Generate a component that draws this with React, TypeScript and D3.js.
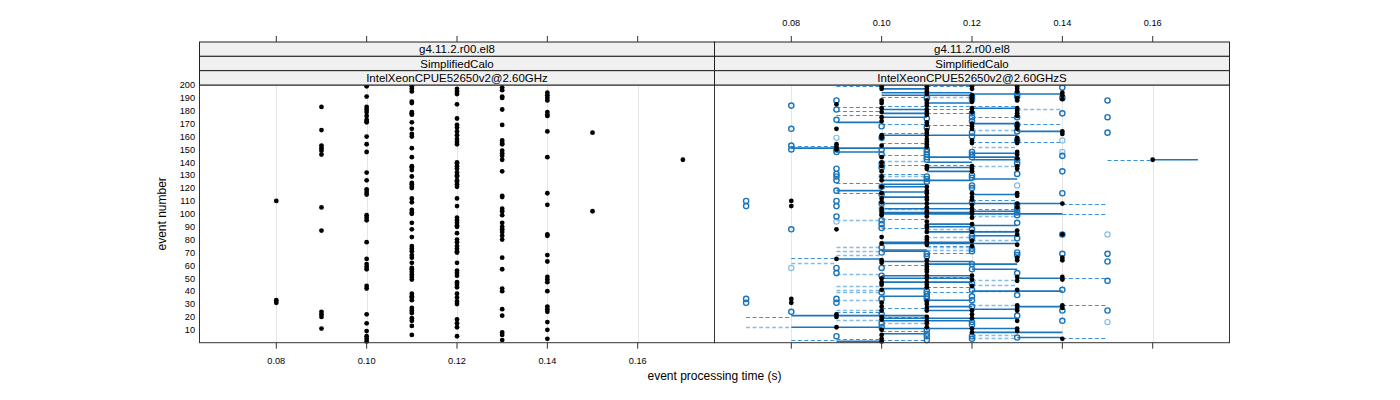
import React from "react";
import * as d3 from "d3";

// ---------- Left panel (IntelXeonCPUE52650v2@2.60GHz): event numbers per processing time ----------
const leftTimes = [0.08, 0.09, 0.10, 0.11, 0.12, 0.13, 0.14, 0.15, 0.17];
const left008 = [110, 33, 31];
const left009 = [183, 165, 153, 151, 149, 146, 105, 87, 24, 22, 20, 11];
const left010 = [199, 191, 183, 181, 179, 176, 173, 172, 171, 160, 154, 148, 132, 126, 119, 117, 115, 99, 97, 95, 78, 65, 61, 59, 57, 44, 42, 22, 15, 9, 5, 3, 1];
const left011 = [199, 197, 195, 187, 186, 179, 178, 177, 171, 166, 162, 160, 151, 144, 137, 136, 134, 129, 124, 123, 121, 120, 112, 109, 103, 101, 100, 93, 88, 82, 75, 73, 71, 68, 66, 62, 58, 57, 55, 53, 51, 49, 38, 36, 35, 33, 27, 25, 23, 19, 17, 13, 6];
const left012 = [197, 195, 193, 185, 174, 169, 167, 164, 161, 158, 156, 154, 140, 139, 137, 135, 132, 130, 129, 126, 125, 123, 121, 112, 106, 97, 95, 93, 91, 90, 85, 80, 78, 75, 73, 71, 70, 62, 56, 54, 52, 47, 45, 43, 38, 35, 32, 30, 18, 15, 12, 5];
const left013 = [198, 196, 191, 190, 181, 169, 157, 155, 154, 149, 147, 145, 142, 133, 114, 113, 104, 102, 99, 93, 90, 88, 86, 83, 80, 66, 57, 42, 40, 26, 21, 8, 6, 2];
const left014 = [194, 192, 190, 188, 179, 177, 176, 164, 144, 116, 107, 84, 83, 68, 63, 51, 49, 47, 40, 28, 26, 24, 16, 10, 3];
const left015 = [163, 102];
const left017 = [142];
const leftEvents = [left008, left009, left010, left011, left012, left013, left014, left015, left017];

// ---------- Right panel (IntelXeonCPUE52650v2@2.60GHzS) ----------
const rightTimes = [0.07, 0.08, 0.09, 0.10, 0.11, 0.12, 0.13, 0.14, 0.15, 0.16];
// black filled points per time
const black007: number[] = [];
const black008 = [110, 106, 34, 31];
const black009 = [185, 166, 154, 152, 150, 88, 65, 22, 20, 12];
const black010 = [199, 197, 188, 186, 182, 179, 175, 172, 161, 159, 153, 144, 140, 137, 133, 129, 126, 121, 116, 112, 109, 104, 102, 100, 99, 82, 77, 64, 62, 50, 47, 45, 41, 31, 28, 25, 20, 18, 10, 6, 3, 1];
const black011 = [199, 197, 195, 193, 188, 186, 184, 181, 179, 177, 171, 169, 165, 163, 161, 158, 156, 154, 152, 137, 135, 121, 118, 116, 113, 111, 108, 105, 102, 100, 98, 94, 91, 89, 86, 82, 80, 78, 76, 64, 61, 59, 57, 55, 52, 50, 47, 45, 43, 32, 30, 27, 25, 20, 17, 15, 12];
const black012 = [199, 197, 192, 190, 187, 182, 179, 170, 168, 166, 157, 155, 137, 135, 133, 116, 113, 111, 107, 104, 102, 100, 97, 92, 86, 79, 75, 52, 49, 44, 25, 22, 19, 11, 8];
const black013 = [199, 197, 195, 190, 188, 182, 180, 178, 176, 170, 168, 166, 159, 157, 155, 148, 146, 143, 137, 135, 116, 114, 108, 105, 87, 84, 76, 66, 64, 51, 48, 41, 29, 27, 25, 17, 11, 9];
const black014 = [194, 192, 189, 164, 162, 108, 84, 66, 64, 51, 49, 29, 27, 3];
const black015: number[] = [];
const black016 = [142];
const blackEvents = [black007, black008, black009, black010, black011, black012, black013, black014, black015, black016];
// open circles (dark blue) per time
const open007 = [110, 106, 34, 31];
const open008 = [184, 166, 153, 150, 88, 24];
const open009 = [188, 181, 173, 150, 148, 135, 131, 129, 126, 118, 110, 106, 98, 58, 54, 34, 31, 5];
const open010 = [168, 159, 150, 146, 139, 136, 121, 115, 108, 95, 92, 89, 74, 70, 58, 52, 39, 34, 22, 15, 12];
const open011 = [190, 174, 167, 150, 148, 146, 144, 142, 129, 127, 125, 69, 67, 40, 38, 36, 34, 10, 7, 5, 2];
const open012 = [191, 189, 178, 175, 172, 163, 160, 148, 146, 144, 130, 128, 122, 120, 109, 88, 83, 81, 73, 71, 61, 57, 46, 41, 36, 33, 28, 16, 14, 5, 3];
const open013 = [193, 191, 175, 169, 164, 157, 142, 139, 131, 107, 104, 101, 99, 93, 81, 70, 68, 54, 37, 21, 4];
const open014 = [198, 190, 178, 145, 133, 116, 84, 69, 41, 25, 17];
const open015 = [188, 175, 163, 69, 63, 48, 25];
const open016: number[] = [];
const openEvents = [open007, open008, open009, open010, open011, open012, open013, open014, open015, open016];
// open circles (light blue) per time
const light008 = [58];
const light009 = [159, 94];
const light010 = [129, 104];
const light013 = [122];
const light014 = [157, 148];
const light015 = [84, 16];
const lightEvents: [number, number[]][] = [
  [0.08, light008], [0.09, light009], [0.10, light010], [0.13, light013], [0.14, light014], [0.15, light015],
];

// segments: [event, from time, to time]
const solidSegments: [number, number, number][] = [
  [197, 0.10, 0.11], [194, 0.10, 0.12], [192, 0.10, 0.12], [193, 0.12, 0.14], [186, 0.11, 0.12],
  [182, 0.12, 0.13], [181, 0.10, 0.11], [178, 0.10, 0.11], [175, 0.10, 0.11], [171, 0.09, 0.10],
  [170, 0.12, 0.13], [164, 0.13, 0.14], [161, 0.10, 0.13], [151, 0.08, 0.10], [151, 0.10, 0.11],
  [148, 0.09, 0.10], [147, 0.12, 0.13], [144, 0.11, 0.13], [142, 0.12, 0.13], [142, 0.16, 0.17],
  [140, 0.11, 0.12], [136, 0.11, 0.12], [133, 0.11, 0.12], [127, 0.12, 0.13], [126, 0.10, 0.12],
  [123, 0.10, 0.11], [121, 0.10, 0.11], [118, 0.09, 0.10], [117, 0.10, 0.11], [115, 0.12, 0.13],
  [113, 0.10, 0.11], [108, 0.10, 0.14], [104, 0.10, 0.12], [102, 0.12, 0.13], [100, 0.10, 0.14],
  [101, 0.10, 0.12], [92, 0.11, 0.12], [91, 0.12, 0.13], [90, 0.11, 0.12], [86, 0.11, 0.13],
  [83, 0.12, 0.13], [78, 0.10, 0.12], [77, 0.10, 0.13], [72, 0.10, 0.11], [71, 0.10, 0.11],
  [65, 0.09, 0.10], [63, 0.10, 0.12], [61, 0.11, 0.13], [57, 0.12, 0.13], [52, 0.10, 0.12],
  [50, 0.10, 0.12], [50, 0.13, 0.14], [47, 0.10, 0.12], [42, 0.10, 0.11], [40, 0.12, 0.14],
  [36, 0.10, 0.11], [33, 0.11, 0.12], [28, 0.11, 0.12], [28, 0.13, 0.14], [26, 0.12, 0.13],
  [25, 0.11, 0.12], [21, 0.08, 0.11], [19, 0.10, 0.13], [17, 0.10, 0.12], [12, 0.08, 0.10],
  [11, 0.10, 0.13], [8, 0.12, 0.14], [7, 0.10, 0.11], [4, 0.13, 0.14], [1, 0.09, 0.10],
];
const dashedSegments: [number, number, number][] = [
  [199, 0.09, 0.10], [199, 0.11, 0.12], [191, 0.10, 0.11], [184, 0.12, 0.13], [184, 0.10, 0.11],
  [183, 0.09, 0.10], [180, 0.09, 0.10], [177, 0.09, 0.10], [184, 0.11, 0.12], [181, 0.11, 0.12],
  [178, 0.11, 0.12], [175, 0.12, 0.13], [170, 0.13, 0.14], [170, 0.10, 0.11], [169, 0.11, 0.12],
  [163, 0.10, 0.11], [156, 0.12, 0.14], [155, 0.10, 0.11], [153, 0.08, 0.09], [146, 0.10, 0.11],
  [138, 0.10, 0.12], [131, 0.10, 0.11], [124, 0.09, 0.10], [116, 0.09, 0.10], [111, 0.12, 0.13],
  [108, 0.14, 0.15], [104, 0.12, 0.13], [100, 0.14, 0.15], [142, 0.15, 0.16], [96, 0.10, 0.11],
  [89, 0.10, 0.11], [75, 0.11, 0.12], [70, 0.11, 0.12], [66, 0.08, 0.09], [60, 0.10, 0.11],
  [51, 0.11, 0.12], [50, 0.14, 0.15], [43, 0.11, 0.12], [39, 0.11, 0.12], [29, 0.14, 0.15],
  [27, 0.10, 0.11], [24, 0.09, 0.10], [20, 0.07, 0.08], [20, 0.10, 0.11], [9, 0.10, 0.11],
  [4, 0.14, 0.15], [3, 0.09, 0.10], [2, 0.08, 0.09], [2, 0.10, 0.11],
];
const lightDashedSegments: [number, number, number][] = [
  [191, 0.11, 0.12], [181, 0.13, 0.14], [165, 0.12, 0.13], [152, 0.12, 0.13], [141, 0.10, 0.11],
  [137, 0.12, 0.13], [129, 0.10, 0.11], [104, 0.10, 0.11], [101, 0.12, 0.13], [98, 0.12, 0.13],
  [95, 0.09, 0.10], [88, 0.11, 0.12], [87, 0.12, 0.13], [82, 0.11, 0.12], [80, 0.12, 0.13],
  [74, 0.09, 0.10], [74, 0.11, 0.12], [72, 0.11, 0.12], [71, 0.09, 0.10], [68, 0.09, 0.10],
  [62, 0.08, 0.09], [53, 0.09, 0.10], [49, 0.12, 0.13], [44, 0.09, 0.10], [41, 0.09, 0.10],
  [39, 0.09, 0.10], [45, 0.12, 0.13], [40, 0.12, 0.13], [33, 0.09, 0.10], [29, 0.12, 0.13],
  [25, 0.09, 0.10], [18, 0.09, 0.10], [15, 0.10, 0.11], [12, 0.07, 0.08], [6, 0.12, 0.13],
  [4, 0.12, 0.13],
];

const xTicks = [0.08, 0.10, 0.12, 0.14, 0.16];
const yTicks = [10, 20, 30, 40, 50, 60, 70, 80, 90, 100, 110, 120, 130, 140, 150, 160, 170, 180, 190, 200];
const stripLabels = ["g4.11.2.r00.el8", "SimplifiedCalo"];
const panelNames = ["IntelXeonCPUE52650v2@2.60GHz", "IntelXeonCPUE52650v2@2.60GHzS"];
const xTitle = "event processing time (s)";
const yTitle = "event number";

const FONT = "'Liberation Sans', Arial, Helvetica, sans-serif";
const DARK = "#1a75bb";
const MID = "#3a93d8";
const LIGHT = "#86bde8";

export default function App() {
  const W = 1400, H = 400;
  const panelX = [199.5, 714.5, 1229.5];
  const top = 85, bottom = 342.7;
  const stripTop = 42;
  const stripH = (top - stripTop) / 3;
  const xDomain = [0.063, 0.177];
  const y = d3.scaleLinear().domain([0, 200]).range([bottom, top]);
  const yc = (e: number) => Math.round(y(e)) + 0.5;
  const xs = [0, 1].map((i) => d3.scaleLinear().domain(xDomain).range([panelX[i], panelX[i + 1]]));

  const leftScale = xs[0];
  const rightScale = xs[1];

  return (
    <svg width={W} height={H} style={{ position: "absolute", left: 0, top: 0, background: "#fff" }} fontFamily={FONT}>
      {/* grid */}
      {[0, 1].map((p) => (
        <g key={"grid" + p}>
          {xTicks.map((t) => (
            <line key={t} x1={Math.round(xs[p](t)) + 0.5} x2={Math.round(xs[p](t)) + 0.5} y1={top} y2={bottom} stroke="#e6e6e6" strokeWidth={1} />
          ))}
        </g>
      ))}
      {/* left panel points */}
      <g>
        {leftTimes.map((t, i) =>
          leftEvents[i].map((e, j) => (
            <circle key={t + "-" + j} cx={leftScale(t)} cy={y(e)} r={2.4} fill="#000" />
          ))
        )}
      </g>
      {/* right panel segments */}
      <g>
        {lightDashedSegments.map(([e, a, b], i) => (
          <line key={"ld" + i} x1={rightScale(a)} x2={rightScale(b)} y1={yc(e)} y2={yc(e)} stroke={LIGHT} strokeWidth={1.3} strokeDasharray="4,2.5" />
        ))}
        {dashedSegments.map(([e, a, b], i) => (
          <line key={"d" + i} x1={rightScale(a)} x2={rightScale(b)} y1={yc(e)} y2={yc(e)} stroke={MID} strokeWidth={1.2} strokeDasharray="4,2.5" />
        ))}
        {solidSegments.map(([e, a, b], i) => (
          <line key={"s" + i} x1={rightScale(a)} x2={rightScale(b)} y1={y(e)} y2={y(e)} stroke={DARK} strokeWidth={1.6} />
        ))}
      </g>
      {/* right panel open circles */}
      <g>
        {lightEvents.map(([t, evs]) =>
          evs.map((e, j) => (
            <circle key={"lc" + t + "-" + j} cx={rightScale(t)} cy={y(e)} r={2.6} fill="none" stroke={LIGHT} strokeWidth={1.2} />
          ))
        )}
        {rightTimes.map((t, i) =>
          openEvents[i].map((e, j) => (
            <circle key={"oc" + t + "-" + j} cx={rightScale(t)} cy={y(e)} r={2.6} fill="none" stroke={DARK} strokeWidth={1.4} />
          ))
        )}
        {rightTimes.map((t, i) =>
          blackEvents[i].map((e, j) => (
            <circle key={"bc" + t + "-" + j} cx={rightScale(t)} cy={y(e)} r={2.4} fill="#000" />
          ))
        )}
      </g>
      {/* panel borders */}
      {[0, 1].map((p) => (
        <rect key={"b" + p} x={panelX[p]} y={top} width={panelX[p + 1] - panelX[p]} height={bottom - top} fill="none" stroke="#333" strokeWidth={1} />
      ))}
      {/* strips */}
      {[0, 1].map((p) => (
        <g key={"strip" + p}>
          {[...stripLabels, panelNames[p]].map((lab, k) => (
            <g key={k}>
              <rect x={panelX[p]} y={stripTop + k * stripH} width={panelX[p + 1] - panelX[p]} height={stripH} fill="#f0f0f0" stroke="#222" strokeWidth={1} />
              <text x={(panelX[p] + panelX[p + 1]) / 2} y={stripTop + k * stripH + stripH / 2 + 4} textAnchor="middle" fontSize={11.5} fill="#000">
                {lab}
              </text>
            </g>
          ))}
        </g>
      ))}
      {/* x axes: ticks top and bottom on both panels; labels bottom-left, top-right */}
      {[0, 1].map((p) => (
        <g key={"ax" + p}>
          {xTicks.map((t) => (
            <g key={t}>
              <line x1={xs[p](t)} x2={xs[p](t)} y1={bottom} y2={bottom + 6} stroke="#333" />
              <line x1={xs[p](t)} x2={xs[p](t)} y1={stripTop} y2={stripTop - 6} stroke="#333" />
              {p === 0 ? (
                <text x={xs[p](t)} y={bottom + 21.5} textAnchor="middle" fontSize={9.2} fill="#000">
                  {t.toFixed(2)}
                </text>
              ) : (
                <text x={xs[p](t)} y={stripTop - 16.5} textAnchor="middle" fontSize={9.2} fill="#000">
                  {t.toFixed(2)}
                </text>
              )}
            </g>
          ))}
        </g>
      ))}
      {/* y axis labels */}
      {yTicks.map((t) => (
        <text key={t} x={195} y={y(t) + 3.3} textAnchor="end" fontSize={9.2} fill="#000">
          {t}
        </text>
      ))}
      {/* titles */}
      <text x={(panelX[0] + panelX[2]) / 2} y={380} textAnchor="middle" fontSize={12} fill="#000">
        {xTitle}
      </text>
      <text transform={`translate(166, ${(top + bottom) / 2}) rotate(-90)`} textAnchor="middle" fontSize={12} fill="#000">
        {yTitle}
      </text>
    </svg>
  );
}
